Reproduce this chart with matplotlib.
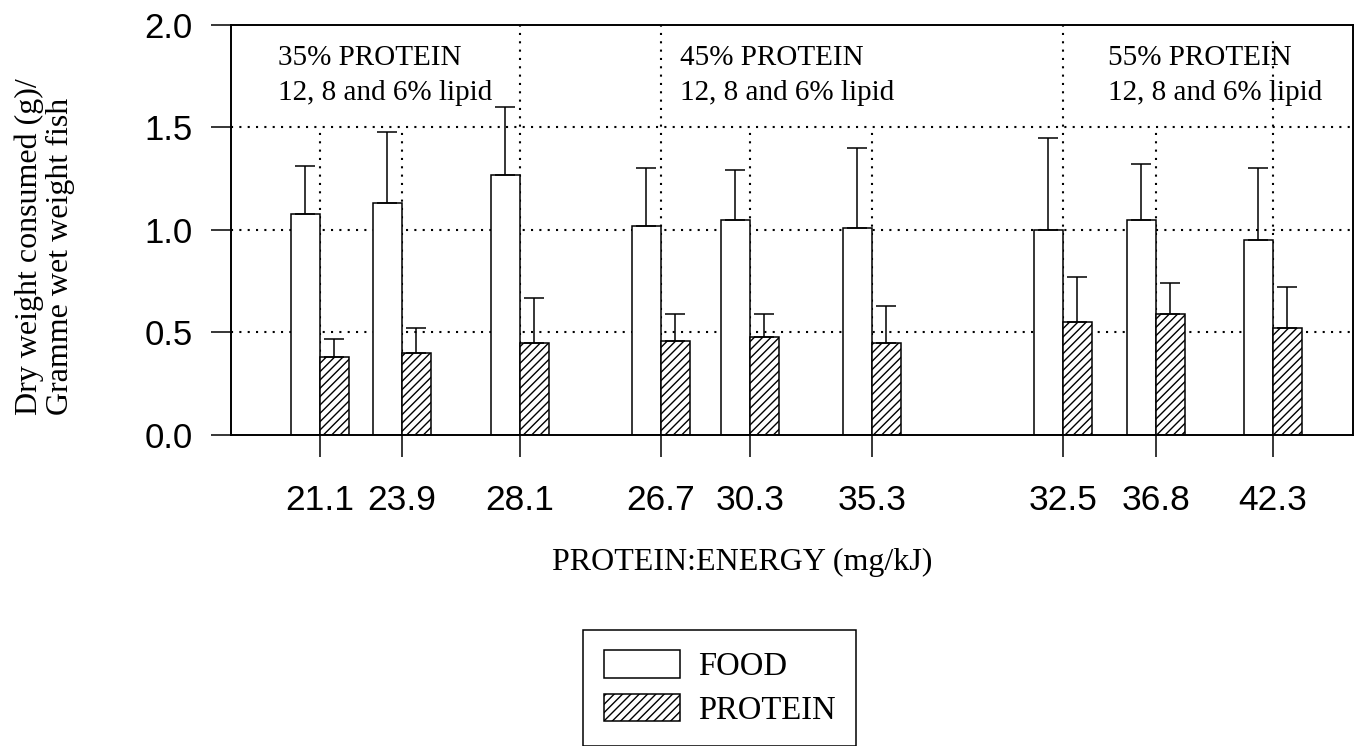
import numpy as np
import matplotlib.pyplot as plt

# values
pe_labels = ["21.1", "23.9", "28.1", "26.7", "30.3", "35.3", "32.5", "36.8", "42.3"]
food = [1.08, 1.13, 1.27, 1.02, 1.05, 1.01, 1.00, 1.05, 0.95]
food_err = [0.23, 0.35, 0.33, 0.28, 0.24, 0.39, 0.45, 0.27, 0.35]
protein = [0.38, 0.40, 0.45, 0.46, 0.48, 0.45, 0.55, 0.59, 0.52]
protein_err = [0.09, 0.12, 0.22, 0.13, 0.11, 0.18, 0.22, 0.15, 0.20]
group_titles = ["35% PROTEIN", "45% PROTEIN", "55% PROTEIN"]
lipid_note = "12, 8 and 6% lipid"

# layout (x positions of the tick between each food/protein pair)
slot_x = np.array([0.89, 1.71, 2.89, 4.30, 5.19, 6.41, 8.32, 9.25, 10.42])
grid_top = [1.5, 1.5, 2.0, 2.0, 1.5, 1.5, 2.0, 1.5, 1.93]
title_x = [0.042, 0.400, 0.782]
w = 0.29

plt.rcParams["font.family"] = "Liberation Sans"
plt.rcParams["hatch.linewidth"] = 1.0
serif = "Liberation Serif"

fig = plt.figure(figsize=(13.66, 7.46), dpi=100)
ax = fig.add_axes([0.169, 0.417, 0.8214, 0.5496])

dots = (0, (1, 3))
# dotted grid behind the bars
for yv in [0.5, 1.0, 1.5]:
    ax.plot([0, 11.22], [yv, yv], color="black", lw=1.5, ls=dots, zorder=0)
for xv, top in zip(slot_x, grid_top):
    ax.plot([xv, xv], [0, top], color="black", lw=1.5, ls=dots, zorder=0)

ax.bar(slot_x - w / 2, food, w, color="white", edgecolor="black", lw=1.1,
       zorder=2, label="FOOD")
ax.bar(slot_x + w / 2, protein, w, color="white", edgecolor="black", lw=1.1,
       hatch="////", zorder=2, label="PROTEIN")

zeros = np.zeros(len(food))
ax.errorbar(slot_x - w / 2, food, yerr=[zeros, food_err], fmt="none",
            ecolor="black", elinewidth=1.1, capsize=7.5, capthick=1.1, zorder=3)
ax.errorbar(slot_x + w / 2, protein, yerr=[zeros, protein_err], fmt="none",
            ecolor="black", elinewidth=1.1, capsize=7.5, capthick=1.1, zorder=3)

ax.set_xlim(0, 11.22)
ax.set_ylim(0, 2.0)
ax.set_yticks([0.0, 0.5, 1.0, 1.5, 2.0], ["0.0", "0.5", "1.0", "1.5", "2.0"])
ax.set_xticks(slot_x, pe_labels)
ax.tick_params(axis="y", direction="out", length=14.5, width=1.1, pad=13, labelsize=25)
ax.tick_params(axis="x", direction="out", length=16, width=1.1, pad=19, labelsize=25.5)
for s in ax.spines.values():
    s.set_linewidth(1.4)

# group notes at the top
for tx, title in zip(title_x, group_titles):
    ax.text(tx, 0.95, title + "\n" + lipid_note, transform=ax.transAxes,
            ha="left", va="top", fontsize=21, family=serif, linespacing=1.45)

fig.text(0.033, 0.67, "Dry weight consumed (g)/\nGramme wet weight fish",
         rotation=90, ha="center", va="center", multialignment="left",
         fontsize=23, family=serif, linespacing=1.1)
fig.text(0.5436, 0.2466, "PROTEIN:ENERGY (mg/kJ)", ha="center", va="center",
         fontsize=23, family=serif)

leg = fig.legend(loc="upper left", bbox_to_anchor=(0.427, 0.1555),
                 bbox_transform=fig.transFigure, prop={"family": serif, "size": 23.5},
                 handlelength=2.35, handleheight=0.92, handletextpad=0.55,
                 labelspacing=0.35, borderpad=0.62, borderaxespad=0,
                 fancybox=False, framealpha=1)
leg.get_frame().set_edgecolor("black")
leg.get_frame().set_linewidth(1.1)

plt.savefig("out.png", dpi=100)
